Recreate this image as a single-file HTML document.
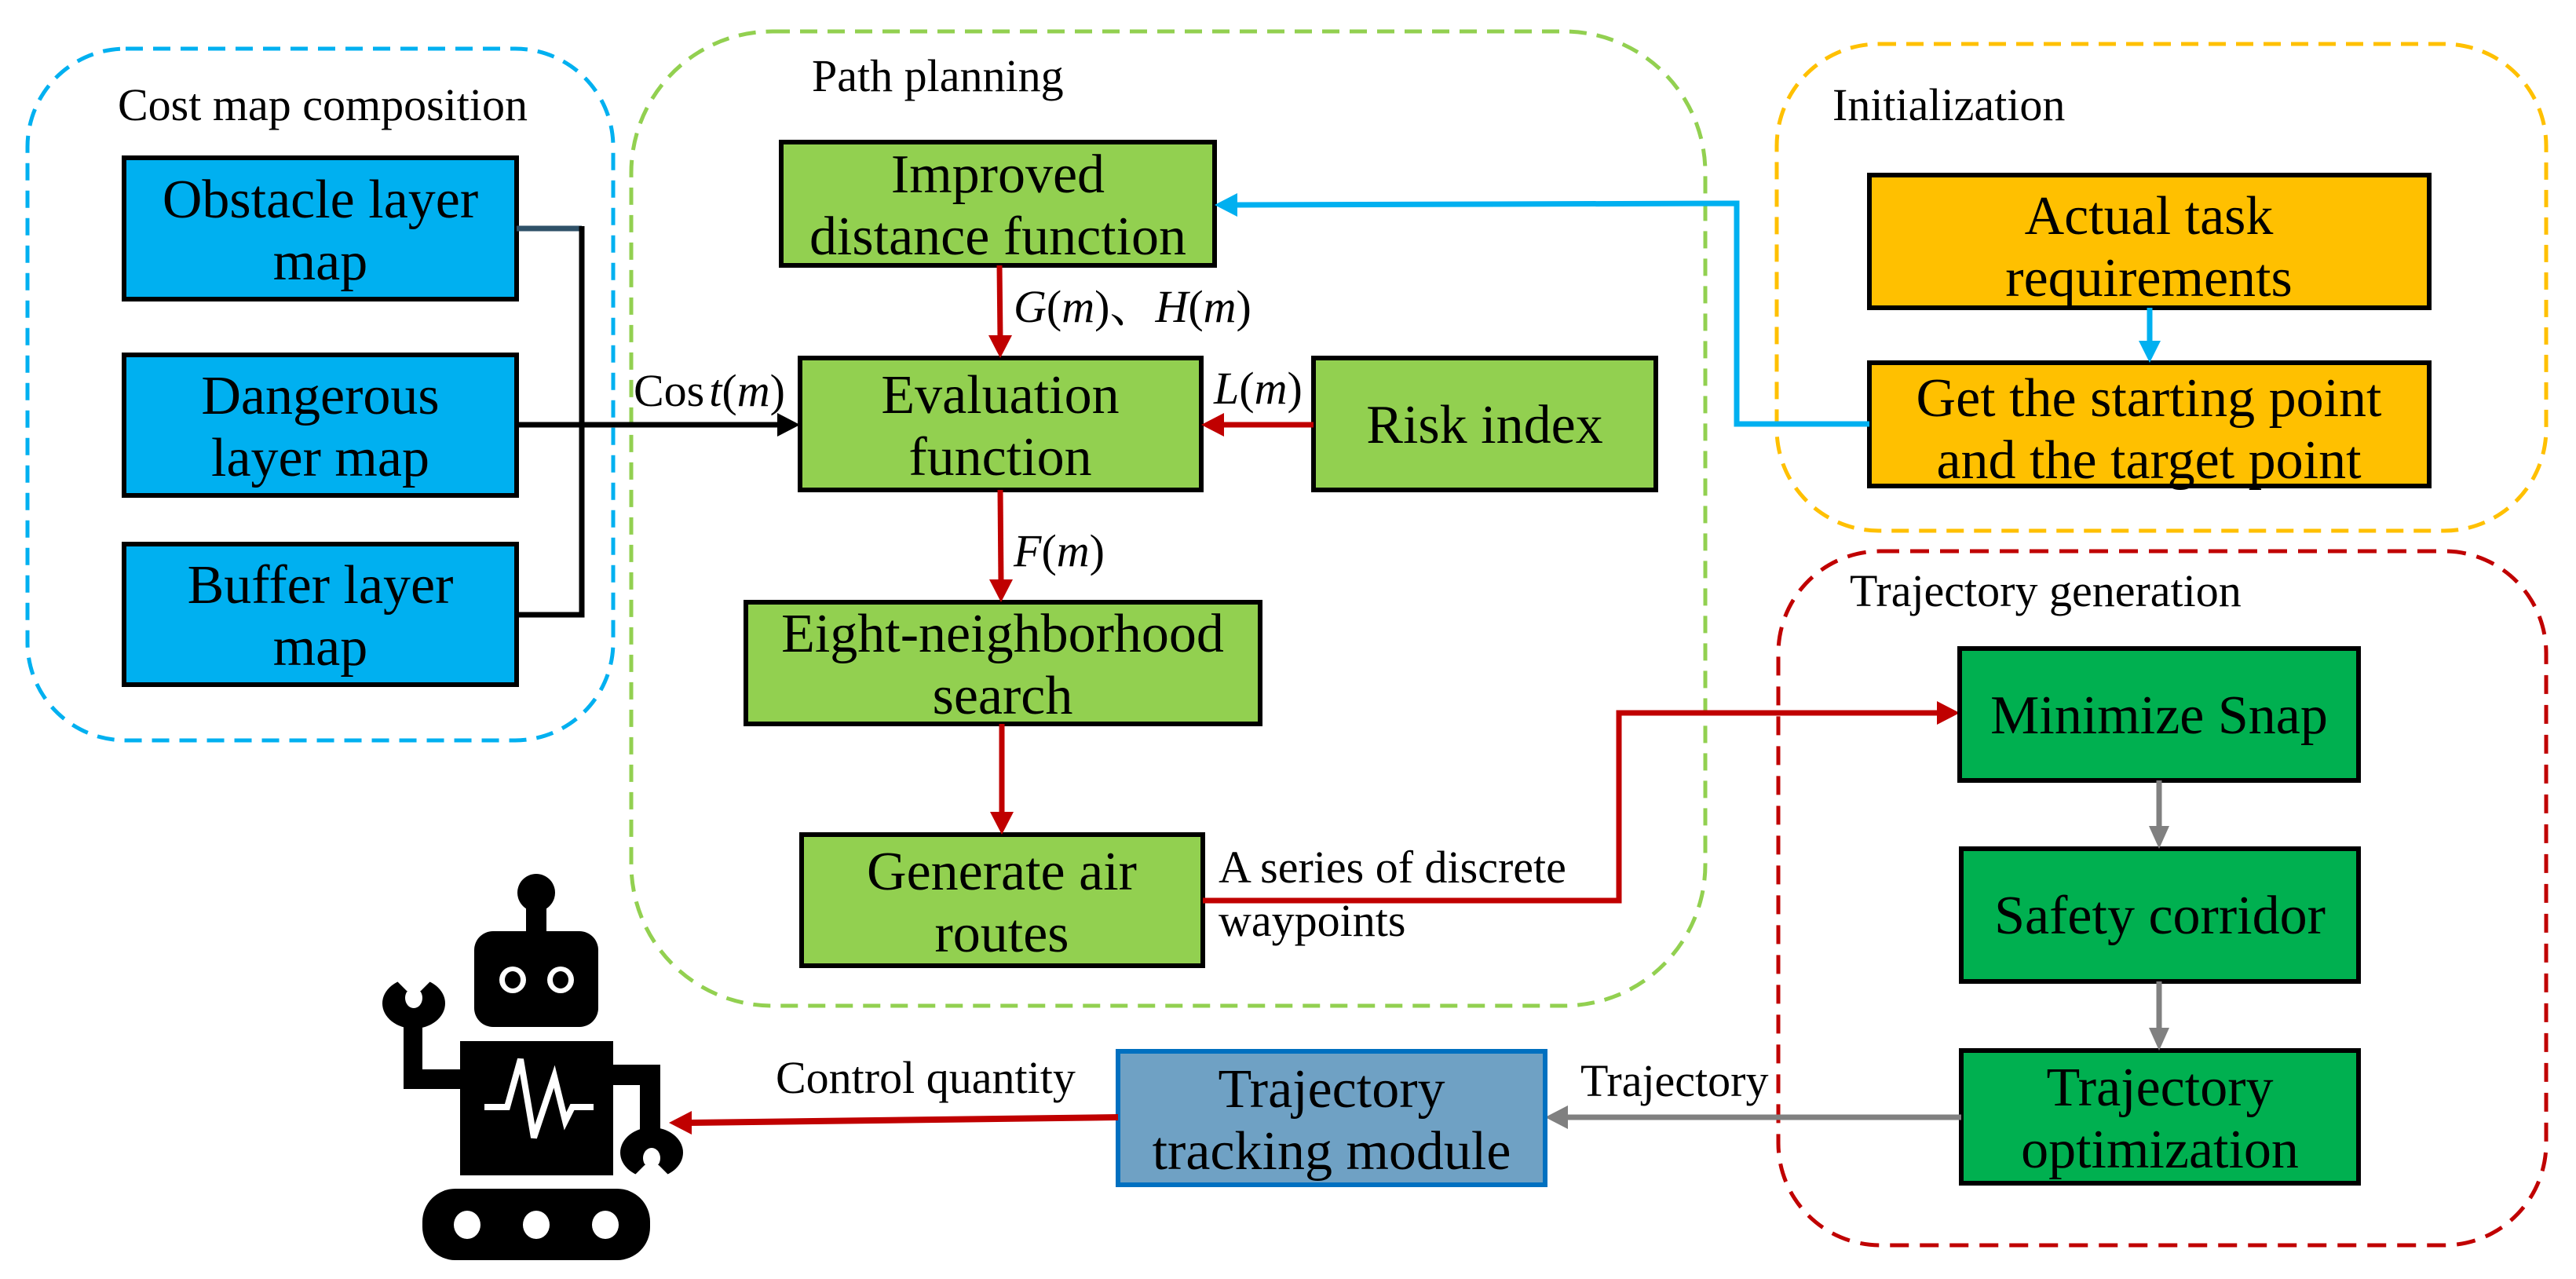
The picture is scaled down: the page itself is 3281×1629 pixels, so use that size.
<!DOCTYPE html>
<html><head><meta charset="utf-8"><style>
html,body{margin:0;padding:0;background:#fff;}
svg{display:block;}
text{font-family:"Liberation Serif","DejaVu Serif","Noto Serif CJK SC",serif;fill:#000;}
.bx{font-family:"Liberation Serif","DejaVu Serif",serif;font-size:70px;text-anchor:middle;}
.lb{font-family:"Liberation Serif","DejaVu Serif","Noto Serif CJK SC",serif;font-size:58px;}
.it{font-style:italic;}
</style></head><body>
<svg width="3281" height="1629" viewBox="0 0 3281 1629" xmlns="http://www.w3.org/2000/svg">
<rect x="35" y="62" width="746" height="881" rx="125" fill="none" stroke="#00b0f0" stroke-width="5" stroke-dasharray="22 13"/>
<rect x="804" y="40" width="1368" height="1241" rx="180" fill="none" stroke="#92d050" stroke-width="5" stroke-dasharray="22 13"/>
<rect x="2263" y="56" width="980" height="620" rx="130" fill="none" stroke="#ffc000" stroke-width="5" stroke-dasharray="22 13"/>
<rect x="2265" y="702" width="978" height="884" rx="130" fill="none" stroke="#c00000" stroke-width="5" stroke-dasharray="24 14"/>

<text class="lb" x="150" y="153">Cost map composition</text>
<text class="lb" x="1034" y="116">Path planning</text>
<text class="lb" x="2334" y="153">Initialization</text>
<text class="lb" x="2356" y="772">Trajectory generation</text>

<g stroke="#000" stroke-width="6" fill="#00b0f0">
<rect x="158" y="201" width="500" height="180"/>
<rect x="158" y="452" width="500" height="179"/>
<rect x="158" y="693" width="500" height="179"/>
</g>
<text class="bx" x="408" y="277">Obstacle layer</text><text class="bx" x="408" y="356">map</text>
<text class="bx" x="408" y="527">Dangerous</text><text class="bx" x="408" y="606">layer map</text>
<text class="bx" x="408" y="768">Buffer layer</text><text class="bx" x="408" y="847">map</text>

<line x1="658" y1="291" x2="741" y2="291" stroke="#2f5168" stroke-width="7"/>
<polyline points="741,288 741,783 658,783" fill="none" stroke="#000" stroke-width="7"/>
<line x1="658" y1="541" x2="1000" y2="541" stroke="#000" stroke-width="7"/>
<polygon points="1019,541 990,526 990,556" fill="#000"/>
<text class="lb" x="807" y="517">Cos<tspan class="it" dx="6">t</tspan>(<tspan class="it">m</tspan>)</text>

<g stroke="#000" stroke-width="6" fill="#92d050">
<rect x="995" y="181" width="552" height="157"/>
<rect x="1019" y="456" width="511" height="168"/>
<rect x="1673" y="456" width="436" height="168"/>
<rect x="950" y="767" width="655" height="155"/>
<rect x="1021" y="1063" width="511" height="167"/>
</g>
<text class="bx" x="1271" y="245">Improved</text><text class="bx" x="1271" y="324">distance function</text>
<text class="bx" x="1274" y="526">Evaluation</text><text class="bx" x="1274" y="605">function</text>
<text class="bx" x="1891" y="564">Risk index</text>
<text class="bx" x="1277" y="830">Eight-neighborhood</text><text class="bx" x="1277" y="909">search</text>
<text class="bx" x="1276" y="1133">Generate air</text><text class="bx" x="1276" y="1212">routes</text>

<g stroke="#c00000" stroke-width="7" fill="none">
<line x1="1273" y1="338" x2="1274" y2="432"/>
<line x1="1673" y1="541" x2="1555" y2="541"/>
<line x1="1274" y1="624" x2="1275" y2="742"/>
<line x1="1276" y1="922" x2="1276" y2="1038"/>
<polyline points="1532,1147 2062,1147 2062,908 2472,908"/>
</g>
<g fill="#c00000">
<polygon points="1274,456 1259,427 1289,427"/>
<polygon points="1530,541 1559,526 1559,556"/>
<polygon points="1275,767 1260,738 1290,738"/>
<polygon points="1276,1063 1261,1034 1291,1034"/>
<polygon points="2496,908 2467,893 2467,923"/>
</g>
<text class="lb" x="1291" y="410"><tspan class="it">G</tspan>(<tspan class="it">m</tspan>)、<tspan class="it">H</tspan>(<tspan class="it">m</tspan>)</text>
<text class="lb" x="1546" y="514"><tspan class="it">L</tspan>(<tspan class="it">m</tspan>)</text>
<text class="lb" x="1291" y="721"><tspan class="it">F</tspan>(<tspan class="it">m</tspan>)</text>
<text class="lb" x="1552" y="1124">A series of discrete</text>
<text class="lb" x="1552" y="1192">waypoints</text>

<g stroke="#000" stroke-width="6" fill="#ffc000">
<rect x="2381" y="223" width="713" height="169"/>
<rect x="2381" y="462" width="713" height="157"/>
</g>
<text class="bx" x="2737" y="298">Actual task</text><text class="bx" x="2737" y="377">requirements</text>
<text class="bx" x="2737" y="530">Get the starting point</text><text class="bx" x="2737" y="609">and the target point</text>
<line x1="2738" y1="392" x2="2738" y2="440" stroke="#00b0f0" stroke-width="7"/>
<polygon points="2738,462 2724,434 2752,434" fill="#00b0f0"/>
<polyline points="2381,540 2212,540 2212,259 1575,261" fill="none" stroke="#00b0f0" stroke-width="7"/>
<polygon points="1547,261 1576,246 1576,276" fill="#00b0f0"/>

<g stroke="#000" stroke-width="6" fill="#00b050">
<rect x="2496" y="826" width="508" height="168"/>
<rect x="2498" y="1081" width="506" height="169"/>
<rect x="2498" y="1338" width="506" height="169"/>
</g>
<text class="bx" x="2750" y="934">Minimize Snap</text>
<text class="bx" x="2751" y="1189">Safety corridor</text>
<text class="bx" x="2751" y="1408">Trajectory</text><text class="bx" x="2751" y="1487">optimization</text>
<g stroke="#808080" stroke-width="7">
<line x1="2750" y1="994" x2="2750" y2="1058"/>
<line x1="2750" y1="1250" x2="2750" y2="1315"/>
<line x1="2498" y1="1423" x2="1995" y2="1423"/>
</g>
<g fill="#808080">
<polygon points="2750,1081 2737,1052 2763,1052"/>
<polygon points="2750,1338 2737,1309 2763,1309"/>
<polygon points="1968,1423 1997,1408 1997,1438"/>
</g>
<text class="lb" x="2013" y="1396">Trajectory</text>

<rect x="1424" y="1339" width="544" height="170" fill="#6fa1c4" stroke="#0070c0" stroke-width="6"/>
<text class="bx" x="1696" y="1410">Trajectory</text><text class="bx" x="1696" y="1489">tracking module</text>
<line x1="1424" y1="1423" x2="878" y2="1430" stroke="#c00000" stroke-width="8"/>
<polygon points="852,1430 881,1415 881,1445" fill="#c00000"/>
<text class="lb" x="988" y="1392">Control quantity</text>

<g fill="#000">
<ellipse cx="683" cy="1137" rx="24" ry="24"/>
<rect x="670" y="1150" width="26" height="40"/>
<rect x="604" y="1186" width="158" height="122" rx="24"/>
<rect x="586" y="1326" width="195" height="171"/>
<rect x="514" y="1300" width="24" height="87"/>
<rect x="514" y="1362" width="80" height="25"/>
<rect x="775" y="1356" width="66" height="26"/>
<rect x="815" y="1356" width="26" height="85"/>
<ellipse cx="527" cy="1278" rx="40" ry="32"/>
<ellipse cx="830" cy="1468" rx="40" ry="32"/>
<rect x="538" y="1514" width="290" height="91" rx="42"/>
</g>
<g fill="#fff">
<ellipse cx="527" cy="1271" rx="11" ry="13"/>
<polygon points="496,1240 558,1240 536,1262 518,1262"/>
<ellipse cx="830" cy="1475" rx="11" ry="13"/>
<polygon points="799,1506 861,1506 839,1484 821,1484"/>
<ellipse cx="653" cy="1248" rx="17" ry="17"/>
<ellipse cx="714" cy="1248" rx="17" ry="17"/>
<ellipse cx="595" cy="1560" rx="17" ry="18"/>
<ellipse cx="683" cy="1560" rx="17" ry="18"/>
<ellipse cx="771" cy="1560" rx="17" ry="18"/>
</g>
<g fill="#000">
<ellipse cx="653" cy="1248" rx="10" ry="11"/>
<ellipse cx="714" cy="1248" rx="10" ry="11"/>
</g>
<polyline points="617,1410 646,1410 663,1349 680,1449 706,1371 720,1428 729,1410 756,1410" fill="none" stroke="#fff" stroke-width="8"/>
</svg>
</body></html>
